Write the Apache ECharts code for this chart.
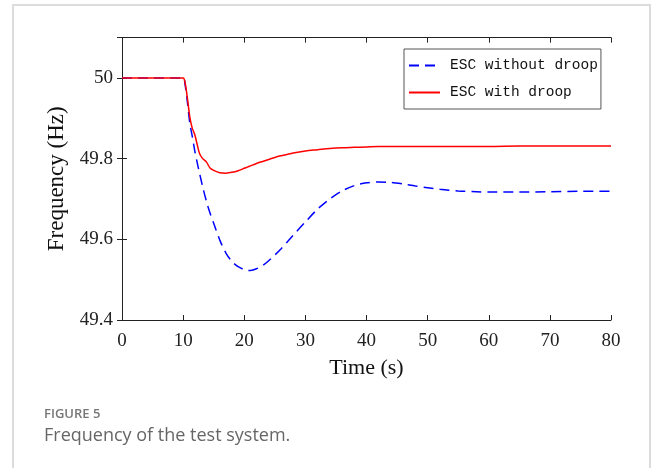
<!DOCTYPE html>
<html>
<head>
<meta charset="utf-8">
<script src="https://cdn.jsdelivr.net/npm/echarts@6/dist/echarts.min.js"></script>
<style>
  html, body { margin: 0; padding: 0; background: #fff; }
  #echarts { width: 658px; height: 468px; }
</style>
</head>
<body>
<div id="echarts"></div>
<script>
// time (s)
var timeS = [0, 5, 10, 10.3, 10.7, 11.1, 11.5, 11.9, 12.3, 12.7, 13.2, 13.8, 14.4, 15, 16, 17, 18, 19, 20, 20.5,
    21, 22, 23, 24, 25, 26, 28, 30, 32, 34, 36, 38, 40, 42, 44, 46, 48, 50, 52, 55, 58, 60, 65, 70, 75, 80];
// frequency (Hz)
var escNoDroop = [50, 50, 50, 49.985, 49.94, 49.887, 49.855, 49.82, 49.79, 49.763, 49.73, 49.695, 49.665, 49.64, 49.598, 49.566, 49.545, 49.532, 49.525, 49.523,
    49.523, 49.527, 49.535, 49.547, 49.561, 49.576, 49.61, 49.643, 49.675, 49.70, 49.72, 49.733, 49.74, 49.742, 49.741, 49.737, 49.732, 49.728, 49.724, 49.72, 49.718, 49.717, 49.717, 49.718, 49.719, 49.719];
var escDroop = [50, 50, 50, 49.99, 49.95, 49.903, 49.875, 49.86, 49.835, 49.812, 49.80, 49.792, 49.777, 49.771, 49.765, 49.764, 49.766, 49.77, 49.776, 49.779,
    49.782, 49.788, 49.793, 49.798, 49.803, 49.807, 49.814, 49.819, 49.822, 49.825, 49.827, 49.828, 49.829, 49.83, 49.83, 49.83, 49.83, 49.83, 49.83, 49.83, 49.83, 49.83, 49.831, 49.831, 49.831, 49.831];
var seriesNames = ['ESC without droop', 'ESC with droop'];

function pairs(xs, ys) {
    var out = [];
    for (var i = 0; i < xs.length; i++) {
        out.push([xs[i], ys[i]]);
    }
    return out;
}

var myChart = echarts.init(document.getElementById('echarts'));
var serif = 'Liberation Serif, Times New Roman, serif';
var boxAxis = {
    axisLine: {show: true, lineStyle: {color: '#222', width: 1}},
    axisTick: {show: true, inside: true, length: 5, lineStyle: {color: '#222'}},
    axisLabel: {show: false},
    splitLine: {show: false}
};

var option = {
    backgroundColor: '#fff',
    animation: false,
    graphic: [
        {
            type: 'rect',
            shape: {x: 13, y: 5, width: 637, height: 480},
            style: {fill: 'none', stroke: '#dcdcdc', lineWidth: 2},
            silent: true
        }
    ],
    title: [
        {
            text: 'FIGURE 5',
            left: 44,
            top: 408,
            padding: 0,
            textStyle: {fontFamily: 'Open Sans', fontWeight: 600, fontSize: 13, color: '#777'}
        },
        {
            text: 'Frequency of the test system.',
            left: 44,
            top: 427,
            padding: 0,
            textStyle: {fontFamily: 'Open Sans', fontWeight: 'normal', fontSize: 18, color: '#666'}
        }
    ],
    legend: {
        orient: 'vertical',
        left: 404,
        top: 49,
        padding: [9, 3, 9, 4],
        itemWidth: 31,
        itemHeight: 14,
        itemGap: 12,
        itemStyle: {opacity: 0},
        backgroundColor: '#fff',
        borderColor: '#555',
        borderWidth: 1,
        borderRadius: 0,
        textStyle: {fontFamily: 'Liberation Mono, monospace', fontSize: 14.5, color: '#111', padding: [0, 0, 0, 5]},
        data: seriesNames
    },
    grid: {
        left: 122,
        top: 37.6,
        width: 489,
        height: 282.4
    },
    xAxis: [
        {
            type: 'value',
            min: 0,
            max: 80,
            interval: 10,
            position: 'bottom',
            name: 'Time (s)',
            nameLocation: 'middle',
            nameGap: 37,
            nameTextStyle: {fontFamily: serif, fontSize: 22, color: '#111'},
            axisLine: {show: true, onZero: false, lineStyle: {color: '#222', width: 1}},
            axisTick: {show: true, inside: true, length: 5, lineStyle: {color: '#222'}},
            axisLabel: {fontFamily: serif, fontSize: 19, color: '#222', margin: 12},
            splitLine: {show: false}
        },
        Object.assign({type: 'value', min: 0, max: 80, interval: 10, position: 'top'}, boxAxis)
    ],
    yAxis: [
        {
            type: 'value',
            min: 49.4,
            max: 50.1,
            interval: 0.2,
            position: 'left',
            name: 'Frequency (Hz)',
            nameLocation: 'middle',
            nameRotate: 90,
            nameGap: 50,
            nameTextStyle: {fontFamily: serif, fontSize: 23, color: '#111'},
            axisLine: {show: true, onZero: false, lineStyle: {color: '#222', width: 1}},
            axisTick: {show: true, inside: true, length: 5, lineStyle: {color: '#222'}},
            axisLabel: {
                fontFamily: serif, fontSize: 19, color: '#222', margin: 9,
                showMaxLabel: false,
                formatter: function (v) { return String(Math.round(v * 10) / 10); }
            },
            splitLine: {show: false}
        },
        Object.assign({type: 'value', min: 49.4, max: 50.1, interval: 0.2, position: 'right'}, boxAxis)
    ],
    series: [
        {
            name: seriesNames[0],
            type: 'line',
            showSymbol: false,
            symbol: 'none',
            smooth: 0.3,
            color: '#0000ff',
            lineStyle: {color: '#0000ff', width: 1.5, type: [10, 6]},
            data: pairs(timeS, escNoDroop),
            z: 3
        },
        {
            name: seriesNames[1],
            type: 'line',
            showSymbol: false,
            symbol: 'none',
            smooth: 0.3,
            color: '#ff0000',
            lineStyle: {color: '#ff0000', width: 1.5},
            data: pairs(timeS, escDroop),
            z: 4
        }
    ]
};
myChart.setOption(option);
</script>
</body>
</html>
